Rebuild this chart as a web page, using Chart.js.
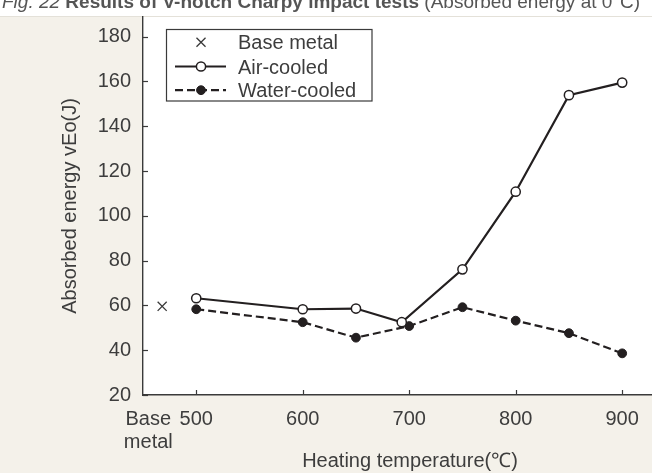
<!DOCTYPE html>
<html>
<head>
<meta charset="utf-8">
<script src="https://cdn.jsdelivr.net/npm/chart.js@4/dist/chart.umd.min.js"></script>
<style>
  html, body { margin: 0; padding: 0; background: #f4f1ea; }
  #wrap { width: 652px; height: 473px; position: relative; }
  canvas { display: block; }
</style>
</head>
<body>
<div id="wrap"><canvas id="chart" width="652" height="473"></canvas></div>
<script>
// Charpy impact test results: absorbed energy vs. heating temperature
const airTemps     = [500, 600, 650, 693, 750, 800, 850, 900];
const airCooled    = [63.2, 58.3, 58.6, 52.5, 76.1, 110.8, 153.9, 159.5];
const waterTemps   = [500, 600, 650, 700, 750, 800, 850, 900];
const waterCooled  = [58.3, 52.5, 45.6, 50.8, 59.2, 53.2, 47.6, 38.6];
const baseMetal    = 59.6;

const xTickValues  = [500, 600, 700, 800, 900];
const yTickValues  = [20, 40, 60, 80, 100, 120, 140, 160, 180];
const baseLabel    = ['Base', 'metal'];

// the "Base metal" column sits left of the 500 °C tick
const BASE_LABEL_AT = 455;
const BASE_X        = 468;

const INK   = '#231f20';
const AXIS  = '#3a3a3a';
const TEXT  = '#3d3d3d';
const BEIGE = '#f4f1ea';
const FONT  = "'Liberation Sans', Arial, Helvetica, sans-serif";

const pageBackground = {
  id: 'pageBackground',
  beforeDraw(chart) {
    const { ctx, width, height, chartArea: a } = chart;
    ctx.save();
    ctx.fillStyle = BEIGE;
    ctx.fillRect(0, 0, width, height);
    ctx.fillStyle = '#ffffff';
    ctx.fillRect(0, 0, width, 16);
    ctx.fillRect(a.left, a.top, a.right - a.left, a.bottom - a.top);
    ctx.strokeStyle = '#e4e1d9';
    ctx.lineWidth = 1;
    ctx.beginPath();
    ctx.moveTo(0, 16.5);
    ctx.lineTo(width, 16.5);
    ctx.stroke();

    // figure caption, partly above the top edge
    ctx.textBaseline = 'alphabetic';
    ctx.textAlign = 'left';
    ctx.fillStyle = '#555555';
    let x = 2;
    const parts = [
      ['italic 19px ' + FONT, 'Fig. 22 '],
      ['bold 19px ' + FONT, 'Results of V-notch Charpy impact tests'],
      ['19px ' + FONT, ' (Absorbed energy at 0°C)']
    ];
    parts.forEach(([f, t]) => {
      ctx.font = f;
      ctx.fillText(t, x, 8);
      x += ctx.measureText(t).width;
    });
    ctx.restore();
  }
};

const inwardTicks = {
  id: 'inwardTicks',
  beforeDatasetsDraw(chart) {
    const { ctx, scales: { x, y } } = chart;
    ctx.save();
    ctx.strokeStyle = AXIS;
    ctx.lineWidth = 1.2;
    x.ticks.forEach(t => {
      if (t.value === BASE_LABEL_AT) return;
      const px = Math.round(x.getPixelForValue(t.value)) + 0.5;
      ctx.beginPath();
      ctx.moveTo(px, y.bottom);
      ctx.lineTo(px, y.bottom - 5);
      ctx.stroke();
    });
    y.ticks.forEach(t => {
      const py = Math.round(y.getPixelForValue(t.value)) + 0.5;
      ctx.beginPath();
      ctx.moveTo(x.left, py);
      ctx.lineTo(x.left + 5, py);
      ctx.stroke();
    });
    ctx.restore();
  }
};

const xAxisTitle = {
  id: 'xAxisTitle',
  afterDraw(chart) {
    const { ctx } = chart;
    ctx.save();
    ctx.font = '20px ' + FONT;
    ctx.fillStyle = TEXT;
    ctx.textAlign = 'center';
    ctx.textBaseline = 'alphabetic';
    ctx.fillText('Heating temperature(℃)', 410, 467);
    ctx.restore();
  }
};

function drawMarker(ctx, ds, cx, cy) {
  ctx.save();
  ctx.lineWidth = ds.pointBorderWidth;
  ctx.strokeStyle = ds.pointBorderColor;
  ctx.fillStyle = ds.pointBackgroundColor;
  ctx.setLineDash([]);
  if (ds.pointStyle === 'crossRot') {
    const h = ds.pointRadius * Math.SQRT1_2;
    ctx.beginPath();
    ctx.moveTo(cx - h, cy - h); ctx.lineTo(cx + h, cy + h);
    ctx.moveTo(cx - h, cy + h); ctx.lineTo(cx + h, cy - h);
    ctx.stroke();
  } else {
    ctx.beginPath();
    ctx.arc(cx, cy, ds.pointRadius, 0, Math.PI * 2);
    ctx.fill();
    ctx.stroke();
  }
  ctx.restore();
}

const sampleLegend = {
  id: 'sampleLegend',
  afterDraw(chart) {
    const { ctx } = chart;
    const box = { left: 166.5, top: 29.5, width: 205.5, height: 71.5 };
    const rows = [49.3, 73.5, 97.2];
    ctx.save();
    ctx.fillStyle = '#ffffff';
    ctx.fillRect(box.left, box.top, box.width, box.height);
    ctx.strokeStyle = AXIS;
    ctx.lineWidth = 1.2;
    ctx.strokeRect(box.left, box.top, box.width, box.height);
    chart.data.datasets.forEach((ds, i) => {
      const base = rows[i];
      const mid = base - 7;
      if (ds.showLine !== false) {
        ctx.save();
        ctx.strokeStyle = ds.borderColor;
        ctx.lineWidth = ds.borderWidth;
        ctx.setLineDash(ds.borderDash || []);
        ctx.beginPath();
        ctx.moveTo(175, mid);
        ctx.lineTo(226, mid);
        ctx.stroke();
        ctx.restore();
      }
      drawMarker(ctx, ds, 201, mid);
      ctx.font = '20px ' + FONT;
      ctx.fillStyle = TEXT;
      ctx.textAlign = 'left';
      ctx.textBaseline = 'alphabetic';
      ctx.fillText(ds.label, 238, base);
    });
    ctx.restore();
  }
};

const toPoints = (xs, ys) => xs.map((t, i) => ({ x: t, y: ys[i] }));

new Chart(document.getElementById('chart'), {
  type: 'line',
  data: {
    datasets: [
      {
        label: 'Base metal',
        data: [{ x: BASE_X, y: baseMetal }],
        showLine: false,
        pointStyle: 'crossRot',
        pointRadius: 6.4,
        pointBorderWidth: 1.3,
        pointBorderColor: AXIS,
        pointBackgroundColor: AXIS,
        borderColor: AXIS
      },
      {
        label: 'Air-cooled',
        data: toPoints(airTemps, airCooled),
        borderColor: INK,
        borderWidth: 2.2,
        pointStyle: 'circle',
        pointRadius: 4.6,
        pointBorderWidth: 1.5,
        pointBorderColor: INK,
        pointBackgroundColor: '#ffffff'
      },
      {
        label: 'Water-cooled',
        data: toPoints(waterTemps, waterCooled),
        borderColor: INK,
        borderWidth: 2.2,
        borderDash: [8, 4],
        pointStyle: 'circle',
        pointRadius: 4.4,
        pointBorderWidth: 1,
        pointBorderColor: INK,
        pointBackgroundColor: INK
      }
    ]
  },
  options: {
    responsive: false,
    animation: false,
    layout: { autoPadding: false, padding: { top: 17, left: 0, right: 0, bottom: 0 } },
    plugins: { legend: { display: false }, tooltip: { enabled: false } },
    scales: {
      x: {
        type: 'linear',
        min: 450,
        max: 928,
        afterBuildTicks: s => { s.ticks = [BASE_LABEL_AT, ...xTickValues].map(v => ({ value: v })); },
        afterFit: s => { s.height = 78; s.paddingLeft = 0; s.paddingRight = 0; },
        grid: { display: true, drawOnChartArea: false, drawTicks: false },
        border: { display: true, color: AXIS, width: 1.4 },
        ticks: {
          autoSkip: false,
          maxRotation: 0,
          padding: 13,
          color: TEXT,
          font: { family: FONT, size: 20, lineHeight: 1.15 },
          callback: v => (v === BASE_LABEL_AT ? baseLabel : String(v))
        }
      },
      y: {
        type: 'linear',
        min: 20,
        max: 188.8,
        afterBuildTicks: s => { s.ticks = yTickValues.map(v => ({ value: v })); },
        afterFit: s => { s.width = 143; s.paddingTop = 0; s.paddingBottom = 0; },
        grid: { display: true, drawOnChartArea: false, drawTicks: false },
        border: { display: true, color: AXIS, width: 1.4 },
        ticks: {
          autoSkip: false,
          padding: 12,
          color: TEXT,
          font: { family: FONT, size: 20 },
          callback: v => String(v)
        },
        title: {
          display: true,
          text: 'Absorbed energy vEo(J)',
          color: TEXT,
          font: { family: FONT, size: 20, lineHeight: 1.2 },
          padding: { top: 58, bottom: 0 }
        }
      }
    }
  },
  plugins: [pageBackground, inwardTicks, xAxisTitle, sampleLegend]
});
</script>
</body>
</html>
